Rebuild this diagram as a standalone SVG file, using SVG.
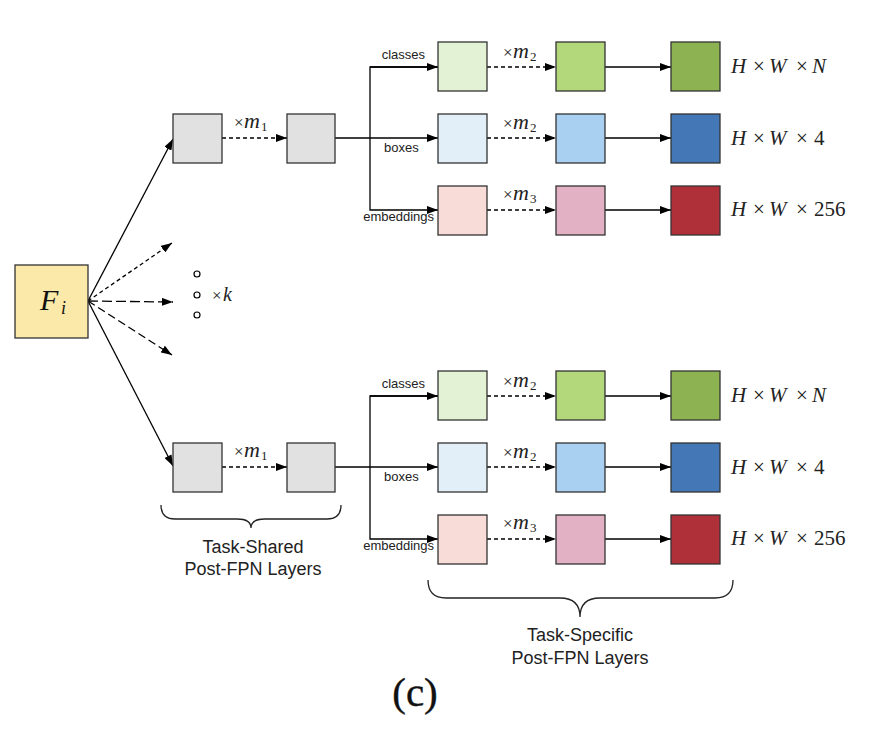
<svg xmlns="http://www.w3.org/2000/svg" width="874" height="731" viewBox="0 0 874 731">
<defs>
<marker id="ah" markerWidth="12" markerHeight="8" refX="11" refY="4" orient="auto" markerUnits="userSpaceOnUse">
<path d="M0,0 L11,4 L0,8 Z" fill="#000"/>
</marker>
</defs>
<style>
.box{stroke:#333;stroke-width:1.3}
.ln{stroke:#000;stroke-width:1.3;fill:none}
.dash{stroke-dasharray:4,3}
.sans{font-family:"Liberation Sans",Arial,sans-serif;fill:#222}
.lbl{font-size:13px}
.cap{font-size:18px;text-anchor:middle}
.math{font-family:"Liberation Serif","Times New Roman",serif;font-size:20px;fill:#222}
.big{font-size:21px}
.it{font-style:italic}
.op{font-size:17px}
.mv{font-size:22px}
.sub{font-size:13px}
.brace{stroke:#222;stroke-width:1.3;fill:none}
.g{fill:#e1e1e1}
.c1{fill:#e3f1d5}.c2{fill:#b3d87b}.c3{fill:#8db251}
.b1{fill:#e2eff9}.b2{fill:#a9d0f0}.b3{fill:#4477b5}
.e1{fill:#f7dcd8}.e2{fill:#e3b1c4}.e3{fill:#b0303a}
</style>
<rect width="874" height="731" fill="#fff"/>

<g id="connectors">
<line class="ln" x1="88" y1="301" x2="173" y2="139" marker-end="url(#ah)"/>
<line class="ln" x1="88" y1="301" x2="173" y2="466" marker-end="url(#ah)"/>
<line class="ln" x1="88" y1="301" x2="172" y2="243" marker-end="url(#ah)" stroke-dasharray="4,3"/>
<line class="ln" x1="88" y1="301" x2="173" y2="302" marker-end="url(#ah)" stroke-dasharray="10,4"/>
<line class="ln" x1="88" y1="301" x2="172" y2="355" marker-end="url(#ah)" stroke-dasharray="8,4"/>
<line class="ln dash" x1="222" y1="138" x2="287" y2="138" marker-end="url(#ah)"/>
<line class="ln" x1="335" y1="138" x2="438" y2="138" marker-end="url(#ah)"/>
<polyline class="ln" points="438,67 370,67 370,210 438,210" marker-end="url(#ah)"/>
<line class="ln" x1="370" y1="67" x2="438" y2="67" marker-end="url(#ah)"/>
<line class="ln dash" x1="487" y1="67" x2="556" y2="67" marker-end="url(#ah)"/>
<line class="ln dash" x1="487" y1="138" x2="556" y2="138" marker-end="url(#ah)"/>
<line class="ln dash" x1="487" y1="210" x2="556" y2="210" marker-end="url(#ah)"/>
<line class="ln" x1="605" y1="67" x2="671" y2="67" marker-end="url(#ah)"/>
<line class="ln" x1="605" y1="138" x2="671" y2="138" marker-end="url(#ah)"/>
<line class="ln" x1="605" y1="210" x2="671" y2="210" marker-end="url(#ah)"/>
<line class="ln dash" x1="222" y1="467" x2="287" y2="467" marker-end="url(#ah)"/>
<line class="ln" x1="335" y1="467" x2="438" y2="467" marker-end="url(#ah)"/>
<polyline class="ln" points="438,396 370,396 370,539 438,539" marker-end="url(#ah)"/>
<line class="ln" x1="370" y1="396" x2="438" y2="396" marker-end="url(#ah)"/>
<line class="ln dash" x1="487" y1="396" x2="556" y2="396" marker-end="url(#ah)"/>
<line class="ln dash" x1="487" y1="467" x2="556" y2="467" marker-end="url(#ah)"/>
<line class="ln dash" x1="487" y1="539" x2="556" y2="539" marker-end="url(#ah)"/>
<line class="ln" x1="605" y1="396" x2="671" y2="396" marker-end="url(#ah)"/>
<line class="ln" x1="605" y1="467" x2="671" y2="467" marker-end="url(#ah)"/>
<line class="ln" x1="605" y1="539" x2="671" y2="539" marker-end="url(#ah)"/>
</g>

<g id="Fi"><rect class="box" x="15" y="265" width="73" height="73" fill="#fae9a8"/>
<text x="40" y="310" font-family="Liberation Serif,serif" font-size="30" font-style="italic" fill="#111">F<tspan x="61" y="314" font-size="18">i</tspan></text></g>

<g id="dots">
<circle cx="197" cy="274" r="3" fill="#fff" stroke="#000" stroke-width="1.2"/>
<circle cx="197" cy="295" r="3" fill="#fff" stroke="#000" stroke-width="1.2"/>
<circle cx="197" cy="315" r="3" fill="#fff" stroke="#000" stroke-width="1.2"/>
<text class="math" y="301"><tspan class="op" x="212">×</tspan><tspan class="it" x="223">k</tspan></text>
</g>

<g id="shared-top-1"><rect class="box g" x="173" y="114" width="49" height="49"/></g>
<g id="shared-top-2"><rect class="box g" x="287" y="114" width="48" height="49"/></g>
<text class="math" y="128"><tspan class="op" x="234">×</tspan><tspan class="it mv" x="244">m</tspan><tspan class="sub" x="261" y="131">1</tspan></text>

<g id="shared-bot-1"><rect class="box g" x="173" y="443" width="49" height="49"/></g>
<g id="shared-bot-2"><rect class="box g" x="287" y="443" width="48" height="49"/></g>
<text class="math" y="457"><tspan class="op" x="234">×</tspan><tspan class="it mv" x="244">m</tspan><tspan class="sub" x="261" y="460">1</tspan></text>

<g id="top-classes">
<rect class="box c1" x="438" y="42" width="49" height="49"/>
<rect class="box c2" x="556" y="42" width="49" height="49"/>
<rect class="box c3" x="671" y="42" width="49" height="49"/>
</g>
<g id="top-boxes">
<rect class="box b1" x="438" y="114" width="49" height="49"/>
<rect class="box b2" x="556" y="114" width="49" height="49"/>
<rect class="box b3" x="671" y="114" width="49" height="49"/>
</g>
<g id="top-emb">
<rect class="box e1" x="438" y="186" width="49" height="49"/>
<rect class="box e2" x="556" y="186" width="49" height="49"/>
<rect class="box e3" x="671" y="186" width="49" height="49"/>
</g>
<g id="top-labels">
<text class="sans lbl" x="425" y="59" text-anchor="end">classes</text>
<text class="sans lbl" x="384" y="152">boxes</text>
<text class="sans lbl" x="434" y="221" text-anchor="end">embeddings</text>
<text class="math" y="58"><tspan class="op" x="503">×</tspan><tspan class="it mv" x="513">m</tspan><tspan class="sub" x="530" y="61">2</tspan></text>
<text class="math" y="129"><tspan class="op" x="503">×</tspan><tspan class="it mv" x="513">m</tspan><tspan class="sub" x="530" y="132">2</tspan></text>
<text class="math" y="200"><tspan class="op" x="503">×</tspan><tspan class="it mv" x="513">m</tspan><tspan class="sub" x="530" y="203">3</tspan></text>
<text class="math big" y="73"><tspan class="it" x="731">H</tspan><tspan x="753">×</tspan><tspan class="it" x="769">W</tspan><tspan x="796">×</tspan><tspan class="it" x="812">N</tspan></text>
<text class="math big" y="145"><tspan class="it" x="731">H</tspan><tspan x="753">×</tspan><tspan class="it" x="769">W</tspan><tspan x="796">×</tspan><tspan x="814">4</tspan></text>
<text class="math big" y="216"><tspan class="it" x="731">H</tspan><tspan x="753">×</tspan><tspan class="it" x="769">W</tspan><tspan x="796">×</tspan><tspan x="814">256</tspan></text>
</g>

<g id="bot-classes">
<rect class="box c1" x="438" y="371" width="49" height="49"/>
<rect class="box c2" x="556" y="371" width="49" height="49"/>
<rect class="box c3" x="671" y="371" width="49" height="49"/>
</g>
<g id="bot-boxes">
<rect class="box b1" x="438" y="443" width="49" height="49"/>
<rect class="box b2" x="556" y="443" width="49" height="49"/>
<rect class="box b3" x="671" y="443" width="49" height="49"/>
</g>
<g id="bot-emb">
<rect class="box e1" x="438" y="515" width="49" height="49"/>
<rect class="box e2" x="556" y="515" width="49" height="49"/>
<rect class="box e3" x="671" y="515" width="49" height="49"/>
</g>
<g id="bot-labels">
<text class="sans lbl" x="425" y="388" text-anchor="end">classes</text>
<text class="sans lbl" x="384" y="481">boxes</text>
<text class="sans lbl" x="434" y="550" text-anchor="end">embeddings</text>
<text class="math" y="387"><tspan class="op" x="503">×</tspan><tspan class="it mv" x="513">m</tspan><tspan class="sub" x="530" y="390">2</tspan></text>
<text class="math" y="458"><tspan class="op" x="503">×</tspan><tspan class="it mv" x="513">m</tspan><tspan class="sub" x="530" y="461">2</tspan></text>
<text class="math" y="529"><tspan class="op" x="503">×</tspan><tspan class="it mv" x="513">m</tspan><tspan class="sub" x="530" y="532">3</tspan></text>
<text class="math big" y="402"><tspan class="it" x="731">H</tspan><tspan x="753">×</tspan><tspan class="it" x="769">W</tspan><tspan x="796">×</tspan><tspan class="it" x="812">N</tspan></text>
<text class="math big" y="474"><tspan class="it" x="731">H</tspan><tspan x="753">×</tspan><tspan class="it" x="769">W</tspan><tspan x="796">×</tspan><tspan x="814">4</tspan></text>
<text class="math big" y="545"><tspan class="it" x="731">H</tspan><tspan x="753">×</tspan><tspan class="it" x="769">W</tspan><tspan x="796">×</tspan><tspan x="814">256</tspan></text>
</g>

<g id="brace-shared">
<path class="brace" d="M161,505 Q161,519 175,519 L237,519 Q251,519 251,528 Q251,519 265,519 L327,519 Q341,519 341,505"/>
<text class="sans cap" x="253" y="553">Task-Shared</text>
<text class="sans cap" x="253" y="575">Post-FPN Layers</text>
</g>
<g id="brace-specific">
<path class="brace" d="M428,580 Q428,598 446,598 L560,598 Q580,598 580,617 Q580,598 600,598 L715,598 Q733,598 733,580"/>
<text class="sans cap" x="580" y="641">Task-Specific</text>
<text class="sans cap" x="580" y="664">Post-FPN Layers</text>
</g>

<text x="415" y="706" text-anchor="middle" font-family="Liberation Serif,serif" font-size="41" fill="#111" stroke="#111" stroke-width="0.4">(c)</text>
</svg>
